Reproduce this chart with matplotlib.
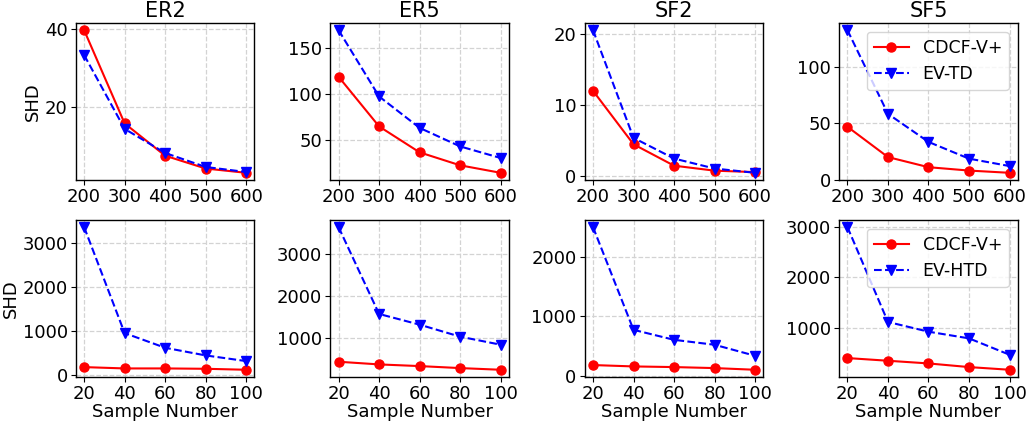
import matplotlib
matplotlib.use("Agg")
import matplotlib.pyplot as plt

titles = ["ER2", "ER5", "SF2", "SF5"]

x_top = [200, 300, 400, 500, 600]
x_bot = [20, 40, 60, 80, 100]

# Top row: CDCF-V+ vs EV-TD
cdcf_top = {
    "ER2": [39.7, 15.7, 7.4, 4.1, 3.0],
    "ER5": [119, 64.6, 36.2, 22, 13.8],
    "SF2": [12.0, 4.5, 1.5, 0.8, 0.6],
    "SF5": [47, 20, 11, 8, 6],
}
evtd_top = {
    "ER2": [33.3, 14.3, 8.1, 4.5, 3.2],
    "ER5": [170, 97.4, 63, 42.7, 30],
    "SF2": [20.5, 5.4, 2.5, 1.1, 0.5],
    "SF5": [133, 58.5, 33.5, 18.6, 12],
}
# Bottom row: CDCF-V+ vs EV-HTD
cdcf_bot = {
    "ER2": [188, 158, 158, 150, 128],
    "ER5": [432, 368, 328, 280, 240],
    "SF2": [179, 156, 145, 128, 100],
    "SF5": [406, 353, 300, 228, 175],
}
evhtd_bot = {
    "ER2": [3354, 957, 625, 452, 324],
    "ER5": [3656, 1576, 1320, 1032, 840],
    "SF2": [2497, 771, 603, 520, 335],
    "SF5": [2993, 1119, 927, 795, 472],
}

yticks_top = {
    "ER2": [20, 40],
    "ER5": [50, 100, 150],
    "SF2": [0, 10, 20],
    "SF5": [0, 50, 100],
}
yticks_bot = {
    "ER2": [0, 1000, 2000, 3000],
    "ER5": [1000, 2000, 3000],
    "SF2": [0, 1000, 2000],
    "SF5": [1000, 2000, 3000],
}

fig, axes = plt.subplots(2, 4, figsize=(10.3, 4.23), dpi=100)
fig.subplots_adjust(left=0.0738, right=0.988, top=0.9456, bottom=0.109,
                    wspace=0.427, hspace=0.255)

tick_fs = 13
lab_fs = 13
ms = 6.5
for j, t in enumerate(titles):
    ax = axes[0, j]
    ax.plot(x_top, cdcf_top[t], color="red", marker="o", markersize=ms,
            linestyle="-", linewidth=1.5, label="CDCF-V+")
    ax.plot(x_top, evtd_top[t], color="blue", marker="v", markersize=ms,
            linestyle="--", linewidth=1.5, label="EV-TD")
    ax.set_title(t, fontsize=15, pad=4)
    ax.set_xticks(x_top)
    ax.set_yticks(yticks_top[t])
    ax.grid(True, linestyle="--", color="lightgray", linewidth=0.9)
    ax.tick_params(labelsize=tick_fs, pad=2.5)

    ax = axes[1, j]
    ax.plot(x_bot, cdcf_bot[t], color="red", marker="o", markersize=ms,
            linestyle="-", linewidth=1.5, label="CDCF-V+")
    ax.plot(x_bot, evhtd_bot[t], color="blue", marker="v", markersize=ms,
            linestyle="--", linewidth=1.5, label="EV-HTD")
    ax.set_xticks(x_bot)
    ax.set_yticks(yticks_bot[t])
    ax.grid(True, linestyle="--", color="lightgray", linewidth=0.9)
    ax.tick_params(labelsize=tick_fs, pad=2.5)
    ax.set_xlabel("Sample Number", fontsize=lab_fs, labelpad=0)

for ax in axes.flat:
    for s in ax.spines.values():
        s.set_linewidth(1.0)

axes[0, 0].set_ylabel("SHD", fontsize=lab_fs, labelpad=2)
axes[1, 0].set_ylabel("SHD", fontsize=lab_fs, labelpad=2)
axes[0, 3].legend(loc="upper right", fontsize=12.5)
axes[1, 3].legend(loc="upper right", fontsize=12.5)

fig.savefig("out.png", dpi=100)
